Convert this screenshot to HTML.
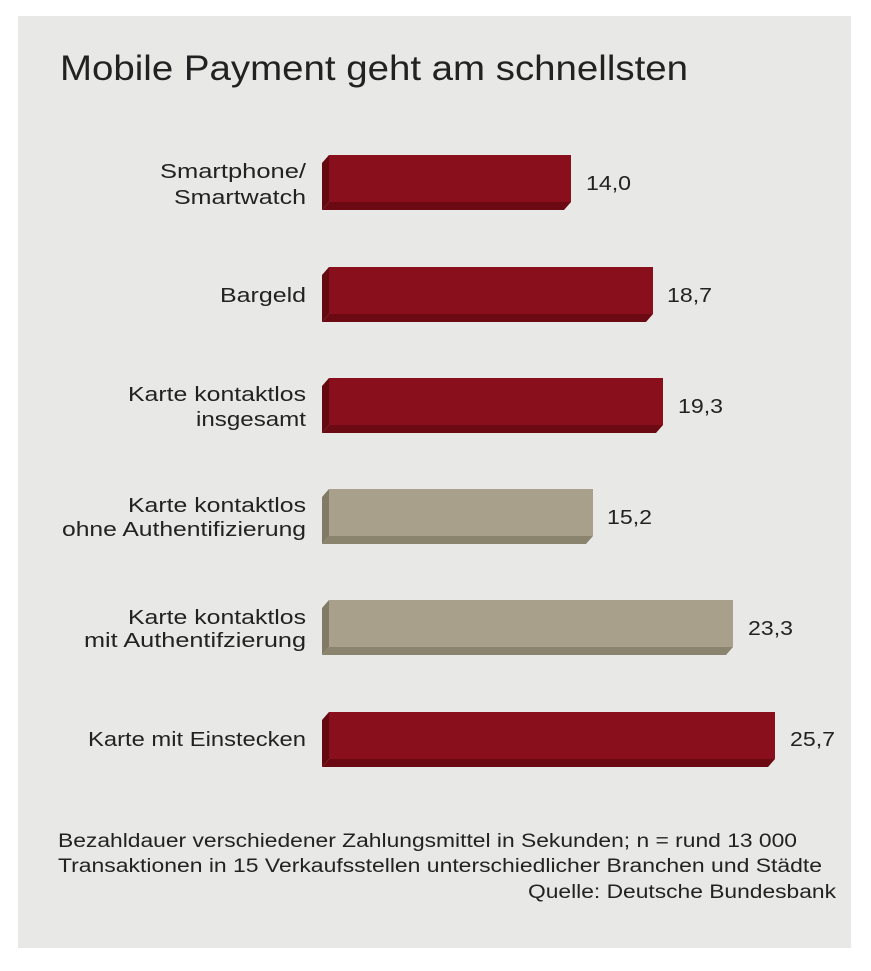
<!DOCTYPE html>
<html><head><meta charset="utf-8"><style>
body{margin:0;background:#fff;}
svg{display:block;}
text{font-family:"Liberation Sans",sans-serif;fill:#222;}
</style></head><body>
<svg width="871" height="971" viewBox="0 0 871 971" xmlns="http://www.w3.org/2000/svg">
<rect x="18" y="16" width="833" height="932" fill="#e8e8e6"/>
<text x="60" y="80" font-size="35" textLength="628" lengthAdjust="spacingAndGlyphs">Mobile Payment geht am schnellsten</text>
<g>
<polygon points="329,155 322,163 322,210 329,202" fill="#650911"/>
<polygon points="329,202 571,202 564,210 322,210" fill="#6c0a14"/>
<rect x="329" y="155" width="242" height="47" fill="#8a0f1c"/>
<polygon points="329,267 322,275 322,322 329,314" fill="#650911"/>
<polygon points="329,314 653,314 646,322 322,322" fill="#6c0a14"/>
<rect x="329" y="267" width="324" height="47" fill="#8a0f1c"/>
<polygon points="329,378 322,386 322,433 329,425" fill="#650911"/>
<polygon points="329,425 663,425 656,433 322,433" fill="#6c0a14"/>
<rect x="329" y="378" width="334" height="47" fill="#8a0f1c"/>
<polygon points="329,489 322,497 322,544 329,536" fill="#807a66"/>
<polygon points="329,536 593,536 586,544 322,544" fill="#8a846f"/>
<rect x="329" y="489" width="264" height="47" fill="#a8a08a"/>
<polygon points="329,600 322,608 322,655 329,647" fill="#807a66"/>
<polygon points="329,647 733,647 726,655 322,655" fill="#8a846f"/>
<rect x="329" y="600" width="404" height="47" fill="#a8a08a"/>
<polygon points="329,712 322,720 322,767 329,759" fill="#650911"/>
<polygon points="329,759 775,759 768,767 322,767" fill="#6c0a14"/>
<rect x="329" y="712" width="446" height="47" fill="#8a0f1c"/>
</g>
<g font-size="20" text-anchor="end" lengthAdjust="spacingAndGlyphs">
<text x="306" y="178" textLength="146" lengthAdjust="spacingAndGlyphs">Smartphone/</text>
<text x="306" y="204" textLength="132" lengthAdjust="spacingAndGlyphs">Smartwatch</text>
<text x="306" y="302" textLength="86" lengthAdjust="spacingAndGlyphs">Bargeld</text>
<text x="306" y="401" textLength="178" lengthAdjust="spacingAndGlyphs">Karte kontaktlos</text>
<text x="306" y="426" textLength="110" lengthAdjust="spacingAndGlyphs">insgesamt</text>
<text x="306" y="512" textLength="178" lengthAdjust="spacingAndGlyphs">Karte kontaktlos</text>
<text x="306" y="536" textLength="244" lengthAdjust="spacingAndGlyphs">ohne Authentifizierung</text>
<text x="306" y="624" textLength="178" lengthAdjust="spacingAndGlyphs">Karte kontaktlos</text>
<text x="306" y="647" textLength="222" lengthAdjust="spacingAndGlyphs">mit Authentifzierung</text>
<text x="306" y="746" textLength="218" lengthAdjust="spacingAndGlyphs">Karte mit Einstecken</text>
</g>
<g font-size="20">
<text x="586" y="190" textLength="45" lengthAdjust="spacingAndGlyphs">14,0</text>
<text x="667" y="302" textLength="45" lengthAdjust="spacingAndGlyphs">18,7</text>
<text x="678" y="413" textLength="45" lengthAdjust="spacingAndGlyphs">19,3</text>
<text x="607" y="524" textLength="45" lengthAdjust="spacingAndGlyphs">15,2</text>
<text x="748" y="635" textLength="45" lengthAdjust="spacingAndGlyphs">23,3</text>
<text x="790" y="746" textLength="45" lengthAdjust="spacingAndGlyphs">25,7</text>
</g>
<g font-size="19">
<text x="58" y="847" textLength="739" lengthAdjust="spacingAndGlyphs">Bezahldauer verschiedener Zahlungsmittel in Sekunden; n = rund 13 000</text>
<text x="58" y="872" textLength="764" lengthAdjust="spacingAndGlyphs">Transaktionen in 15 Verkaufsstellen unterschiedlicher Branchen und Städte</text>
<text x="528" y="898" textLength="308" lengthAdjust="spacingAndGlyphs">Quelle: Deutsche Bundesbank</text>
</g>
</svg>
</body></html>
